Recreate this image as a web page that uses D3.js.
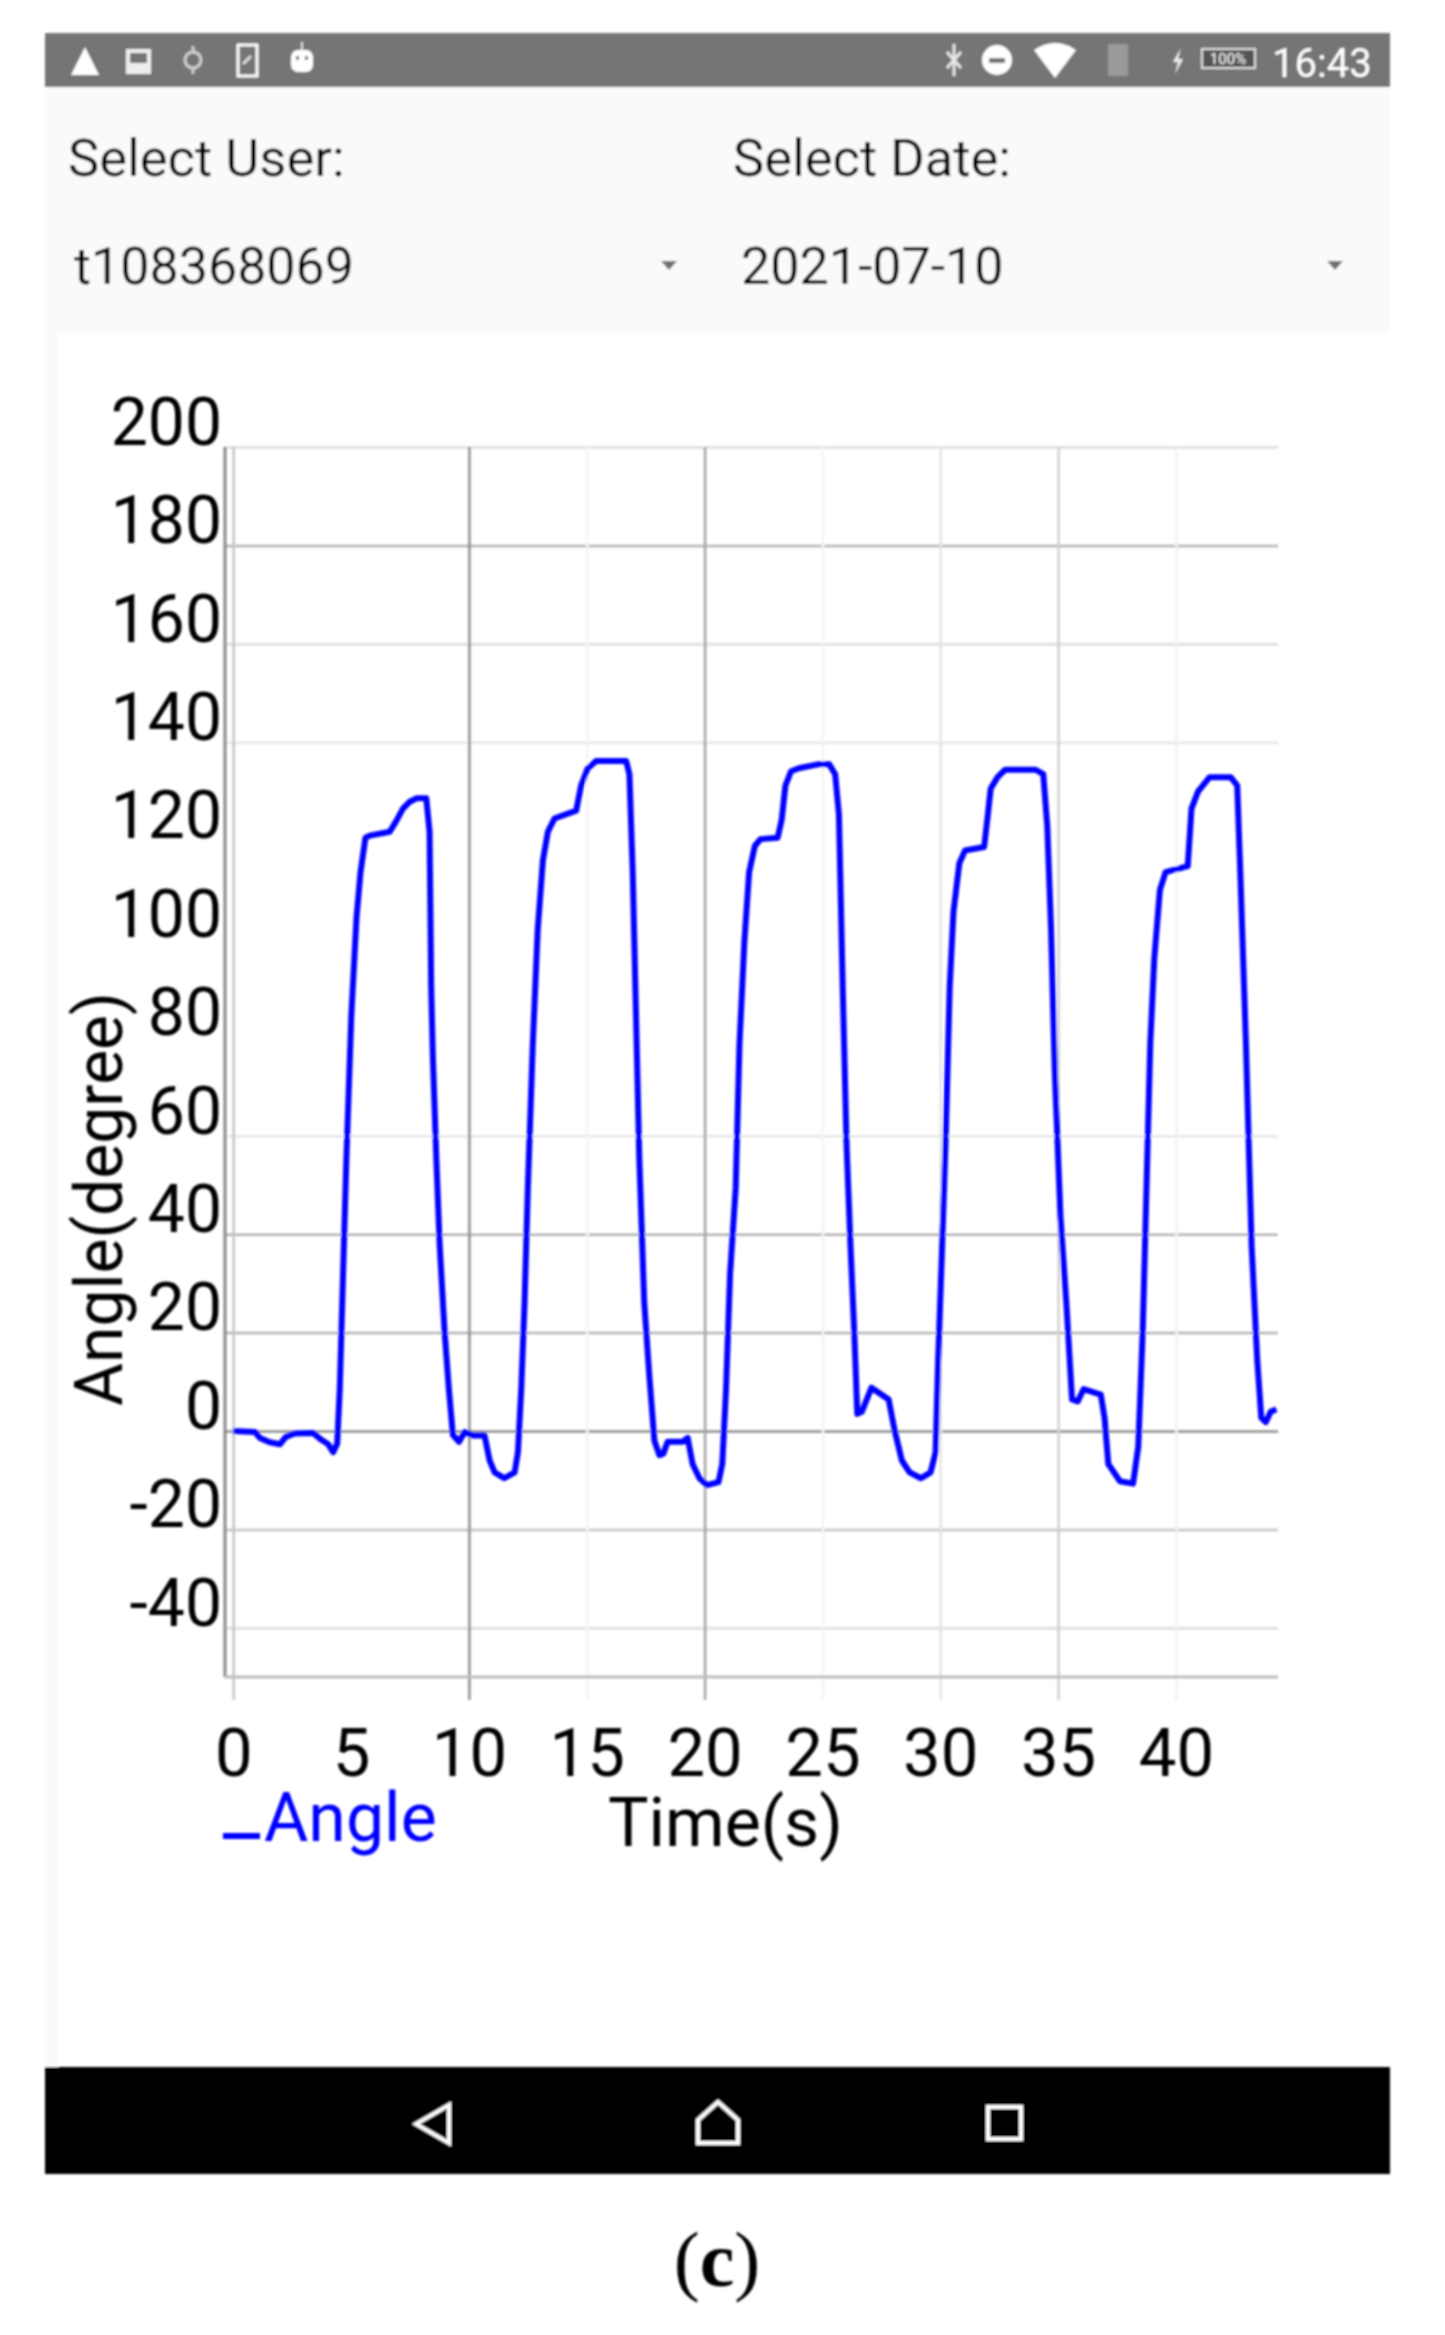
<!DOCTYPE html>
<html>
<head>
<meta charset="utf-8">
<script src="https://cdn.jsdelivr.net/npm/d3@7/dist/d3.min.js"></script>
<style>
  html, body { margin: 0; padding: 0; background: #fff; }
  svg { display: block; }
  text { font-family: Roboto, sans-serif; }
</style>
</head>
<body>
<div id="chart"></div>
<script>
var xTicks = [0, 5, 10, 15, 20, 25, 30, 35, 40];
var yTicks = [200, 180, 160, 140, 120, 100, 80, 60, 40, 20, 0, -20, -40];

var timeSec = [0, 0.92, 1.13, 1.55, 1.98, 2.23, 2.61, 3.39, 3.74, 4.03, 4.24, 4.41, 4.52, 4.66, 4.8, 5.01, 5.23, 5.4, 5.61, 5.79,
  6.64, 6.92, 7.2, 7.49, 7.77, 8.19, 8.33, 8.4, 8.47, 8.62, 8.76, 8.97, 9.15, 9.32, 9.58, 9.82, 10.17, 10.66, 10.88, 11.09,
  11.5, 11.94, 12.08, 12.22, 12.36, 12.5, 12.71, 12.92, 13.14, 13.35, 13.63, 14.55, 14.76, 15.04, 15.4, 16.67, 16.81, 16.95, 17.09, 17.23,
  17.44, 17.66, 17.87, 18.08, 18.25, 18.43, 19.07, 19.28, 19.49, 19.78, 20.1, 20.59, 20.75, 20.91, 21.08, 21.32, 21.48, 21.69, 21.89, 22.13,
  22.37, 23.1, 23.27, 23.43, 23.67, 24, 24.81, 25.29, 25.54, 25.7, 25.86, 26.02, 26.19, 26.35, 26.48, 26.67, 27.08, 27.81, 28.05, 28.37,
  28.7, 29.18, 29.59, 29.8, 29.91, 30.08, 30.24, 30.4, 30.56, 30.81, 31.05, 31.86, 32.02, 32.14, 32.43, 32.75, 34.05, 34.37, 34.54, 34.7,
  34.86, 35.1, 35.35, 35.59, 35.83, 36.08, 36.81, 36.97, 37.13, 37.62, 38.18, 38.4, 38.59, 38.75, 38.91, 39.08, 39.32, 39.56, 40.5, 40.66,
  40.94, 41.43, 42.32, 42.6, 42.73, 42.97, 43.21, 43.45, 43.62, 43.81, 44.02, 44.26];

var angleDeg = [0, -0.2, -1.4, -2.3, -2.7, -1.2, -0.5, -0.4, -1.8, -2.7, -4.3, -2.6, 8.5, 31.9, 55.2, 84.4, 104.3, 113.6, 120.6, 121,
  121.8, 124, 126.5, 127.9, 128.6, 128.6, 121.8, 90, 76, 55, 37.7, 20, 8.5, -0.8, -2.2, -0.2, -0.9, -0.9, -6, -8.4,
  -9.6, -8.4, -4.3, 8.5, 26, 49.4, 78.6, 102, 116, 121.8, 124.5, 126.1, 131.2, 134.7, 136.2, 136.2, 133.5, 113.6, 84.4, 55.2,
  26, 10.9, -2, -4.9, -4.6, -2.2, -2.2, -1.4, -6.7, -9.6, -11, -10.4, -6.7, 8.5, 31.9, 49.4, 78.6, 99.6, 113.6, 118.9,
  120.3, 120.6, 124.2, 131.2, 134.1, 134.7, 135.5, 135.5, 133.5, 125.3, 90.3, 58.7, 37.7, 20.2, 3.5, 3.9, 8.8, 6.4, 0.4, -6,
  -8.4, -9.6, -8.4, -4.3, 14.4, 37.7, 61, 90.3, 105.5, 115.4, 118, 118.7, 125.3, 130.6, 132.9, 134.4, 134.4, 133.5, 123, 102,
  72.8, 43.6, 26, 6.4, 6, 8.5, 7.4, 2.7, -6.7, -10.2, -10.7, -3.2, 20.2, 49.4, 78.6, 96, 110, 113.6, 114.8, 126.5,
  130, 132.9, 132.9, 131.2, 113.6, 78.6, 37.7, 14.4, 2.7, 1.8, 3.9, 4.4];

var userLabel = 'Select User:', dateLabel = 'Select Date:';
var userValue = 't108368069', dateValue = '2021-07-10';
var statusTime = '16:43';

var W = 1445, H = 2335;
var svg = d3.select('#chart').append('svg').attr('width', W).attr('height', H);

// the source is a small screenshot scaled up, so everything is a bit soft
svg.append('defs').append('filter').attr('id', 'soft')
  .attr('x', 0).attr('y', 0).attr('width', W).attr('height', H).attr('filterUnits', 'userSpaceOnUse')
  .append('feGaussianBlur').attr('stdDeviation', 0.9);
var page = svg.append('g').attr('filter', 'url(#soft)');

// app chrome
page.append('rect').attr('x', 45).attr('y', 33).attr('width', 1345).attr('height', 54).attr('fill', '#757575');
page.append('rect').attr('x', 45).attr('y', 87).attr('width', 1345).attr('height', 246).attr('fill', '#fafafa');
page.append('rect').attr('x', 45).attr('y', 333).attr('width', 13).attr('height', 1735).attr('fill', '#fafafa');
page.append('rect').attr('x', 45).attr('y', 2067).attr('width', 1345).attr('height', 107).attr('fill', '#000');

function label(x, y, txt, size, fill) {
  return page.append('text').attr('x', x).attr('y', y).attr('font-size', size).attr('fill', fill || '#000').text(txt);
}
label(68, 176, userLabel, 52.5);
label(733, 176, dateLabel, 52.5);
label(74, 284, userValue, 52);
label(741, 284, dateValue, 52);
[669, 1335].forEach(function(cx) {
  page.append('path').attr('d', 'M' + (cx - 8) + ',261h16l-8,9z').attr('fill', '#6e6e6e');
});

// status bar icons
var icons = page.append('g');
icons.append('path').attr('d', 'M85,47L99,75H71Z').attr('fill', '#fff');
icons.append('path').attr('d', 'M126,49h25v25h-25z M130,53v10h17v-10z').attr('fill', '#ededed').attr('fill-rule', 'evenodd');
icons.append('circle').attr('cx', 193).attr('cy', 60).attr('r', 8).attr('fill', 'none').attr('stroke', '#cfcfcf').attr('stroke-width', 3);
icons.append('path').attr('d', 'M193,46v6 M193,68v6').attr('stroke', '#cfcfcf').attr('stroke-width', 3);
icons.append('rect').attr('x', 238).attr('y', 45).attr('width', 19).attr('height', 31).attr('fill', 'none').attr('stroke', '#fff').attr('stroke-width', 3);
icons.append('path').attr('d', 'M243,64l8,-8').attr('stroke', '#ddd').attr('stroke-width', 3);
icons.append('rect').attr('x', 291).attr('y', 50).attr('width', 22).attr('height', 22).attr('rx', 7).attr('fill', '#fff');
icons.append('path').attr('d', 'M302,42v8').attr('stroke', '#ddd').attr('stroke-width', 2);
icons.append('rect').attr('x', 296).attr('y', 56).attr('width', 3).attr('height', 4).attr('fill', '#757575');
icons.append('rect').attr('x', 305).attr('y', 56).attr('width', 3).attr('height', 4).attr('fill', '#757575');
icons.append('path').attr('d', 'M954,44v32 M947,52l14,16 M947,68l14,-16').attr('stroke', '#e6e6e6').attr('stroke-width', 3).attr('fill', 'none');
icons.append('circle').attr('cx', 997).attr('cy', 60).attr('r', 15).attr('fill', '#fff');
icons.append('rect').attr('x', 989).attr('y', 58).attr('width', 16).attr('height', 5).attr('fill', '#757575');
icons.append('path').attr('d', 'M1034,50Q1055,36 1076,50L1055,78Z').attr('fill', '#fff');
icons.append('rect').attr('x', 1108).attr('y', 44).attr('width', 20).attr('height', 32).attr('fill', '#9a9a9a');
icons.append('path').attr('d', 'M1181,48l-8,14h5l-3,12l8,-15h-5z').attr('fill', '#eee');
icons.append('rect').attr('x', 1202).attr('y', 49).attr('width', 53).attr('height', 19).attr('fill', '#555').attr('stroke', '#ddd').attr('stroke-width', 2);
icons.append('text').attr('x', 1228).attr('y', 64).attr('text-anchor', 'middle').attr('font-size', 15).attr('fill', '#fff').text('100%');
label(1272, 77, statusTime, 40, '#fff');

// nav bar icons
var nav = page.append('g').attr('fill', 'none').attr('stroke', '#fff').attr('stroke-width', 4);
nav.append('path').attr('d', 'M449,2105V2143L416,2124Z');
nav.append('path').attr('d', 'M698,2143V2120L718,2102L738,2120V2143Z');
nav.append('rect').attr('x', 988).attr('y', 2107).attr('width', 33).attr('height', 32);

// chart
var margin = {left: 225, right: 167, top: 447, bottom: 658};
var x = d3.scaleLinear().domain([-0.35, 44.33]).range([margin.left, W - margin.right]);
var y = d3.scaleLinear().domain([-50, 200]).range([H - margin.bottom, margin.top]);
var plotW = x.range()[1] - x.range()[0];
var plotH = y.range()[0] - y.range()[1];

function yGridColor(v) {
  if (v >= 80 && v <= 120) return 'none';
  if (v === 0) return '#8c8c8c';
  if (v === 180 || v === 40 || v === 20) return '#b4b4b4';
  if (v === -20) return '#c4c4c4';
  if (v === 60 || v === 140) return '#e6e6e6';
  return '#dcdcdc';
}
function xGridColor(v) {
  return {0: '#c4c4c4', 5: 'none', 10: '#8e8e8e', 15: '#f4f4f4', 20: '#a4a4a4', 25: '#f4f4f4', 30: '#e4e4e4', 35: '#d0d0d0', 40: '#f2f2f2'}[v];
}

var yAxis = page.append('g').attr('transform', 'translate(' + margin.left + ',0)')
  .call(d3.axisLeft(y).tickValues(yTicks).tickSize(-plotW).tickPadding(3).tickFormat(d3.format('d')));
yAxis.select('.domain').remove();
yAxis.selectAll('.tick line').attr('stroke', yGridColor).attr('stroke-width', 2.5);
yAxis.selectAll('.tick text').attr('font-size', 66).attr('fill', '#000').attr('dy', '-0.04em')
  .attr('font-family', 'Roboto, sans-serif').text(function(d) { return d; });

var xAxis = page.append('g').attr('transform', 'translate(0,' + y.range()[0] + ')')
  .call(d3.axisBottom(x).tickValues(xTicks).tickSize(23).tickPadding(28).tickFormat(d3.format('d')));
xAxis.select('.domain').remove();
xAxis.selectAll('.tick line').attr('y1', -plotH).attr('stroke', xGridColor).attr('stroke-width', 2.5);
xAxis.selectAll('.tick text').attr('font-size', 67).attr('fill', '#000').attr('font-family', 'Roboto, sans-serif');

page.append('line').attr('x1', margin.left).attr('x2', margin.left).attr('y1', y.range()[1]).attr('y2', y.range()[0])
  .attr('stroke', '#888').attr('stroke-width', 3);
page.append('line').attr('x1', margin.left).attr('x2', x.range()[1]).attr('y1', y.range()[0]).attr('y2', y.range()[0])
  .attr('stroke', '#bdbdbd').attr('stroke-width', 3);

var line = d3.line().x(function(d, i) { return x(timeSec[i]); }).y(function(d) { return y(d); });
page.append('path').datum(angleDeg).attr('d', line).attr('fill', 'none').attr('stroke', '#0000ff')
  .attr('stroke-width', 6).attr('stroke-linejoin', 'round');

// axis titles and legend
page.append('text').attr('transform', 'translate(122,1199) rotate(-90)').attr('text-anchor', 'middle')
  .attr('font-size', 66).attr('fill', '#000').text('Angle(degree)');
label(608, 1846, 'Time(s)', 68);
page.append('rect').attr('x', 223).attr('y', 1833).attr('width', 37).attr('height', 6).attr('fill', '#0000ff');
label(264, 1841, 'Angle', 68, '#0000ff');

var caption = page.append('text').attr('x', 717).attr('y', 2286).attr('text-anchor', 'middle')
  .attr('font-size', 78).attr('fill', '#000').style('font-family', '"Liberation Serif", serif');
caption.append('tspan').text('(');
caption.append('tspan').attr('font-weight', 'bold').text('c');
caption.append('tspan').text(')');
</script>
</body>
</html>
